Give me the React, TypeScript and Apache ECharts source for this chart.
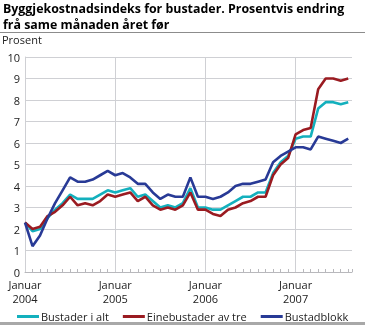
import React, { useEffect, useRef } from "react";
import * as echarts from "echarts";

const yearLabels = ["2004", "2005", "2006", "2007"];
const seriesNames = ["Bustader i alt", "Einebustader av tre", "Bustadblokk"];
const colors = ["#13b0bd", "#9a1b21", "#283a96"];

// Monthly values, January 2004 – August 2007
const bustaderIAlt = [
  2.3, 1.9, 2.0, 2.5, 2.9, 3.2, 3.6, 3.4, 3.4, 3.4, 3.6, 3.8,
  3.7, 3.8, 3.9, 3.5, 3.6, 3.3, 3.0, 3.1, 3.0, 3.2, 3.9, 3.0,
  3.0, 2.9, 2.9, 3.1, 3.3, 3.5, 3.5, 3.7, 3.7, 4.6, 5.1, 5.4,
  6.2, 6.3, 6.3, 7.6, 7.9, 7.9, 7.8, 7.9,
];
const einebustader = [
  2.3, 2.0, 2.1, 2.6, 2.8, 3.1, 3.5, 3.1, 3.2, 3.1, 3.3, 3.6,
  3.5, 3.6, 3.7, 3.3, 3.5, 3.1, 2.9, 3.0, 2.9, 3.1, 3.7, 2.9,
  2.9, 2.7, 2.6, 2.9, 3.0, 3.2, 3.3, 3.5, 3.5, 4.5, 5.0, 5.3,
  6.4, 6.6, 6.7, 8.5, 9.0, 9.0, 8.9, 9.0,
];
const bustadblokk = [
  2.3, 1.2, 1.7, 2.5, 3.2, 3.8, 4.4, 4.2, 4.2, 4.3, 4.5, 4.7,
  4.5, 4.6, 4.4, 4.1, 4.1, 3.7, 3.4, 3.6, 3.5, 3.5, 4.4, 3.5,
  3.5, 3.4, 3.5, 3.7, 4.0, 4.1, 4.1, 4.2, 4.3, 5.1, 5.4, 5.6,
  5.8, 5.8, 5.7, 6.3, 6.2, 6.1, 6.0, 6.2,
];

const font = "'Open Sans', 'Noto Sans', sans-serif";

export default function App() {
  const ref = useRef<HTMLDivElement>(null);
  useEffect(() => {
    if (!ref.current) return;
    const chart = echarts.init(ref.current, null, { renderer: "svg" });
    const toPairs = (arr: number[]) => arr.map((v, i) => [i, v]);
    const all = [bustaderIAlt, einebustader, bustadblokk];
    const series: any[] = all.map((arr, k) => ({
      name: seriesNames[k],
      type: "line",
      data: toPairs(arr),
      showSymbol: false,
      symbol: "none",
      lineStyle: { color: colors[k], width: 2.6 },
      itemStyle: { color: colors[k] },
      z: 3 + k,
    }));
    series[0].markLine = {
      silent: true,
      symbol: ["none", "none"],
      label: { show: false },
      lineStyle: { color: "#cfd0d4", type: "solid", width: 1 },
      data: [{ xAxis: 0 }, { xAxis: 12 }, { xAxis: 24 }, { xAxis: 36 }],
      z: 1,
    };
    chart.setOption({
      animation: false,
      textStyle: { fontFamily: font },
      graphic: [
        {
          type: "text",
          left: 3,
          top: 0,
          style: {
            text: "Byggjekostnadsindeks for bustader. Prosentvis endring\nfrå same månaden året før",
            font: `bold 12.4px ${font}`,
            fill: "#000",
            lineHeight: 16.5,
          },
        },
        { type: "rect", shape: { x: 0, y: 32, width: 365, height: 1 }, style: { fill: "#8c8c8c" } },
        {
          type: "text",
          left: 2,
          top: 34,
          style: { text: "Prosent", font: `11px ${font}`, fill: "#222" },
        },
        { type: "rect", shape: { x: 0, y: 322, width: 365, height: 3 }, style: { fill: "#a8a8a8" } },
      ],
      legend: {
        left: 12,
        top: 306,
        itemWidth: 22,
        itemHeight: 3,
        itemGap: 14,
        icon: "rect",
        textStyle: { fontSize: 11, color: "#222", fontFamily: font, padding: [0, 0, 0, -3] },
        data: seriesNames,
      },
      grid: { left: 25, right: 13, top: 57, bottom: 56, containLabel: false },
      xAxis: {
        type: "value",
        min: 0,
        max: 43.5,
        interval: 12,
        axisLine: { show: true, lineStyle: { color: "#b8b8bc", width: 1 } },
        axisTick: { show: true, inside: true, length: 3, lineStyle: { color: "#b8b8bc" } },
        minorTick: { show: true, splitNumber: 12, length: 3, lineStyle: { color: "#b8b8bc" } },
        splitLine: { show: false },
        axisLabel: {
          color: "#222",
          fontSize: 11,
          lineHeight: 13.5,
          margin: 6,
          formatter: (v: number) => {
            const idx = Math.round(v / 12);
            if (Math.abs(v - idx * 12) > 0.01 || idx >= yearLabels.length) return "";
            return "Januar\n" + yearLabels[idx];
          },
        },
      },
      yAxis: {
        type: "value",
        min: 0,
        max: 10,
        interval: 1,
        offset: 2,
        axisLine: { show: true, lineStyle: { color: "#cfd0d4", width: 1 } },
        axisTick: { show: false },
        splitLine: { show: true, lineStyle: { color: "#cfd0d4", width: 1 } },
        axisLabel: { color: "#222", fontSize: 11, margin: 3, lineHeight: 10 },
      },
      series,
    });
    return () => chart.dispose();
  }, []);
  return (
    <div
      ref={ref}
      style={{ position: "fixed", left: 0, top: 0, width: 365, height: 328 }}
    />
  );
}
